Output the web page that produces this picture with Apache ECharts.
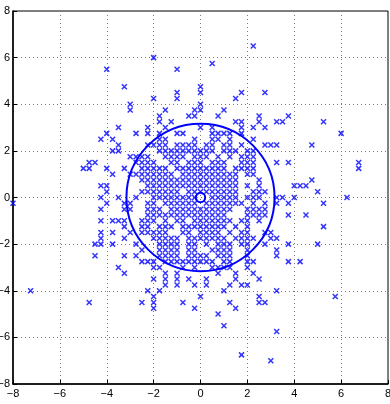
<!DOCTYPE html>
<html>
<head>
<meta charset="utf-8">
<script src="https://cdn.jsdelivr.net/npm/echarts@6/dist/echarts.min.js"></script>
<style>
  html, body { margin: 0; padding: 0; background: #fff; }
  #main { width: 390px; height: 404px; }
</style>
</head>
<body>
<div id="main"></div>
<script>
// one entry of rowX per entry of rowY: the x values of the crosses on that row
const rowY = [6.5, 6, 5.75, 5.5, 4.75, 4.5, 4.25, 4, 3.75, 3.5, 3.25, 3, 2.75, 2.5, 2.25, 2,
  1.75, 1.5, 1.25, 1, 0.75, 0.5, 0.25, 0, -0.25, -0.5, -0.75, -1, -1.25, -1.5, -1.75, -2,
  -2.25, -2.5, -2.75, -3, -3.25, -3.5, -3.75, -4, -4.25, -4.5, -4.75, -5, -5.5, -5.75, -6.75, -7];
const rowX = [
  [2.25],
  [-2],
  [0.5],
  [-4, -1],
  [-3.25, 0],
  [-1, 0, 1.75, 2.75],
  [-2, -1, 1.5],
  [-3, 0],
  [-3, -1.5, -0.25, 0, 1],
  [-1.75, -0.5, -0.25, 0.75, 2.5, 3.75],
  [-1.75, -1.25, 1.5, 1.75, 2.5, 3.25, 3.5, 5.25],
  [-3.5, -2.25, -1.5, 0, 0.5, 1.75, 2.25, 2.75],
  [-4, -2.75, -2.25, -1.75, -1, -0.75, 0.5, 0.75, 1, 1.25, 1.75, 6],
  [-4.25, -3.75, -1.75, -1.5, -0.25, 0.5, 0.75, 1.25, 2.25],
  [-3.5, -2.25, -2, -1.75, -1.5, -1, -0.75, -0.5, -0.25, 0.25, 0.5, 1, 1.25, 1.75, 2.75, 3, 3.25, 4.75],
  [-3.75, -3.5, -1.75, -1.5, -1.25, -1, -0.75, -0.5, -0.25, 0, 0.25, 0.5, 1, 1.25, 1.5, 2, 2.25],
  [-3, -2.75, -2.5, -2.25, -1.5, -1.25, -1, -0.75, -0.25, 0, 0.25, 0.75, 1.25, 1.75, 2, 2.25],
  [-4.75, -4.5, -2.75, -2.5, -2.25, -2, -1.25, -1, -0.5, -0.25, 0, 0.5, 0.75, 1, 1.75, 2, 2.25, 3.25, 3.75, 6.75],
  [-5, -4.75, -4, -3.25, -2.5, -2.25, -2, -1.75, -1.5, -1, -0.75, -0.5, -0.25, 0, 0.25, 0.5, 0.75, 1, 1.5, 1.75, 2, 2.25, 6.75],
  [-3.75, -3, -2.75, -2.5, -2.25, -2, -1.75, -1.5, -1.25, -0.75, -0.5, -0.25, 0, 0.25, 0.5, 0.75, 1, 1.25, 1.5, 2, 2.25],
  [-2.5, -2.25, -2, -1.75, -1.5, -1.25, -1, -0.75, -0.5, -0.25, 0, 0.25, 0.5, 0.75, 1, 1.25, 1.5, 2.5, 4.75],
  [-4.25, -4, -2.25, -2, -1.75, -1.5, -1.25, -1, -0.75, -0.5, -0.25, 0, 0.25, 0.5, 0.75, 1, 1.25, 1.5, 2, 2.5, 4, 4.25, 4.5],
  [-4, -2.5, -2.25, -2, -1.75, -1.5, -1.25, -1, -0.5, -0.25, 0, 0.25, 0.5, 0.75, 1, 1.25, 1.5, 2.25, 2.5, 2.75, 5],
  [-4.25, -3.5, -2.75, -2, -1.75, -1.5, -1.25, -1, -0.75, -0.5, -0.25, 0.5, 0.75, 1, 1.25, 1.5, 2, 2.25, 2.5, 3.25, 3.5, 4, 6.25],
  [-8, -4, -3.25, -3, -2.25, -2, -1.5, -1.25, -1, -0.75, -0.5, -0.25, 0.25, 0.5, 0.75, 1, 1.25, 1.5, 1.75, 2.25, 2.75, 3.25, 3.75, 5.25],
  [-4.25, -3.25, -3, -2.25, -2, -1.75, -1.25, -1, -0.75, -0.5, -0.25, 0, 0.25, 0.5, 0.75, 1, 1.25, 2, 2.25, 2.5, 2.75],
  [-2.25, -2, -1.75, -1.5, -1.25, -1, -0.75, -0.5, -0.25, 0, 0.25, 0.5, 0.75, 1, 2, 2.25, 2.5, 2.75, 3.75, 4.5],
  [-4.25, -3.75, -3.5, -3.25, -2.5, -2.25, -2, -1.5, -1, -0.75, -0.25, 0, 0.25, 0.5, 0.75, 1, 1.25, 1.75, 2, 2.5],
  [-3.25, -2.5, -2.25, -1.75, -1.5, -1.25, -0.75, -0.5, -0.25, 0, 0.25, 0.5, 0.75, 1, 1.5, 2, 5.25],
  [-4.25, -3.75, -3, -2.5, -2.25, -2, -1.75, -1.5, -0.75, -0.5, 0, 0.25, 0.5, 0.75, 1.25, 1.75, 2, 2.75, 3],
  [-4.25, -3.25, -2, -1.75, -1.5, -1.25, -1, -0.5, -0.25, 0, 0.25, 0.5, 0.75, 1, 1.5, 1.75, 2, 2.25, 3, 3.25],
  [-4.5, -4.25, -3.75, -2.75, -1.75, -1.5, -1.25, -1, -0.5, -0.25, 0.25, 0.75, 1, 1.25, 1.75, 2, 2.75, 3.75, 5],
  [-2.5, -1.75, -1.5, -1.25, -1, -0.5, -0.25, 0.5, 0.75, 1, 1.25, 2, 3.25],
  [-4.5, -3.25, -2.75, -1.75, -1.5, -1.25, -1, -0.5, -0.25, 0, 0.25, 0.75, 1, 1.25, 2, 3.25],
  [-2.5, -2.25, -2, -1.5, -1.25, -1, -0.75, -0.5, -0.25, 0, 0.25, 0.5, 1, 1.25, 2, 2.25, 3.75, 4.25],
  [-3.5, -2, -1.75, -0.75, -0.25, 0.5, 0.75, 1, 1.25, 2],
  [-3.25, -1.5, -1, 0.75, 1.5, 2.25],
  [-2, -1.5, -1, -0.5, 0.25, 1.5, 2.5],
  [-1.5, -1, -0.25, 0.25, 1.25, 1.75, 2],
  [-7.25, -2.25, -1.75, 1, 3.25],
  [-2, 0, 2.5, 5.75],
  [-4.75, -2.5, -2, -0.75, 1.25, 2.5, 2.75],
  [-2, -0.25, 1.5],
  [0.75],
  [1],
  [3.25],
  [1.75],
  [3]
];
// circles: centre x, centre y, radius (data units)
const circles = [[0, 0, 3.16], [0, 0, 0.2]];

let points = [];
for (let i = 0; i < rowY.length; i++) {
  for (let j = 0; j < rowX[i].length; j++) {
    points.push([rowX[i][j], rowY[i]]);
  }
}

const blue = '#0000ff';
const chart = echarts.init(document.getElementById('main'), null, { renderer: 'canvas' });

const axisCommon = {
  type: 'value',
  min: -8,
  max: 8,
  interval: 2,
  axisLine: { show: true, onZero: false, lineStyle: { color: '#000', width: 1.5 } },
  axisTick: { show: true, inside: true, length: 4, lineStyle: { color: '#000' } },
  splitLine: { show: true, lineStyle: { color: '#777', width: 1, type: [1, 3] } },
  axisLabel: {
    color: '#000', fontSize: 11, fontFamily: 'Liberation Sans, Arial, sans-serif',
    formatter: function (v) { return String(v).replace('-', '\u2212'); }
  }
};

chart.setOption({
  animation: false,
  backgroundColor: '#fff',
  grid: {
    left: 13, right: 2, top: 11, bottom: 20,
    containLabel: false,
    outerBoundsMode: 'none',
    show: true, borderColor: '#000', borderWidth: 1, backgroundColor: 'transparent'
  },
  xAxis: Object.assign({}, axisCommon, {
    axisLabel: Object.assign({}, axisCommon.axisLabel, { margin: 4 })
  }),
  yAxis: Object.assign({}, axisCommon, {
    axisLabel: Object.assign({}, axisCommon.axisLabel, { margin: 3 })
  }),
  series: [
    {
      type: 'scatter',
      data: points,
      symbol: 'path://M0,0L10,10M10,0L0,10',
      symbolSize: 5,
      itemStyle: { color: 'transparent', borderColor: blue, borderWidth: 1.5 },
      emphasis: { disabled: true },
      z: 2
    },
    {
      type: 'custom',
      data: circles,
      clip: false,
      renderItem: function (params, api) {
        const c = api.coord([api.value(0), api.value(1)]);
        const s = api.size([api.value(2), api.value(2)]);
        return {
          type: 'ellipse',
          shape: { cx: c[0], cy: c[1], rx: s[0], ry: s[1] },
          style: { fill: 'none', stroke: blue, lineWidth: 2 }
        };
      },
      z: 3
    }
  ]
});
</script>
</body>
</html>
